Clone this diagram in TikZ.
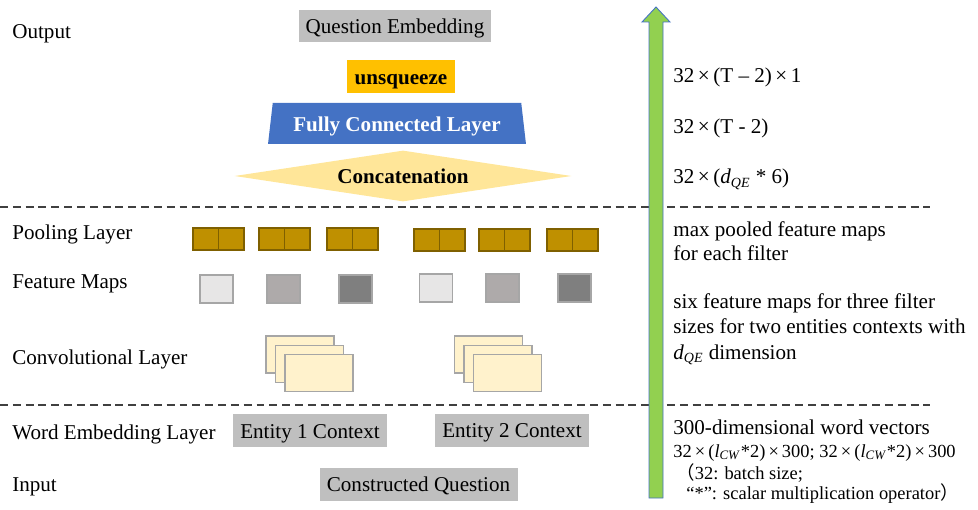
\documentclass[tikz,border=0pt]{standalone}
\usepackage{fontspec}
\setmainfont{Liberation Serif}
\newfontfamily\cjk{Noto Sans CJK SC}
\usetikzlibrary{shapes.geometric,positioning}

\definecolor{boxgray}{HTML}{BFBFBF}
\definecolor{sqzorange}{HTML}{FFC000}
\definecolor{fcblue}{HTML}{4472C4}
\definecolor{catyellow}{HTML}{FFE699}
\definecolor{poolgold}{HTML}{BF9000}
\definecolor{pooledge}{HTML}{7F6000}
\definecolor{fmlight}{HTML}{E7E6E6}
\definecolor{fmmid}{HTML}{AEAAAA}
\definecolor{fmdark}{HTML}{7F7F7F}
\definecolor{convfill}{HTML}{FFF2CC}
\definecolor{edgegray}{HTML}{A6A6A6}
\definecolor{arrowgreen}{HTML}{92D050}

\newcommand{\dqe}{\textit{d}\textsubscript{\textit{QE}}}
\newcommand{\lcw}{(\textit{l}\textsubscript{\textit{CW}}*2)}

\begin{document}
\begin{tikzpicture}[x=0.02cm,y=-0.02cm,
  every node/.style={font=\fontsize{12}{14}\selectfont},
  sz/.style 2 args={minimum width=#1*0.02cm,minimum height=#2*0.02cm},
  mid/.style={text height=9pt,text depth=0pt},
  graybox/.style={fill=boxgray,inner sep=0pt,mid},
  lbl/.style={anchor=base west,inner sep=0pt},
  note/.style={anchor=base west,inner sep=0pt,font=\fontsize{10.5}{12}\selectfont},
  poolcell/.style={draw=pooledge,fill=poolgold,line width=0.6pt,inner sep=0pt,outer sep=0pt,sz={25.5}{22}},
  fmap/.style={draw=edgegray,fill=#1,line width=0.6pt,inner sep=0pt,sz={33}{28}},
  convmap/.style={draw=edgegray,fill=convfill,line width=0.6pt,inner sep=0pt,sz={68}{37}},
  sepline/.style={dashed,dash pattern=on 4.5pt off 2.8pt,line width=0.85pt,draw=black!75}]
\useasboundingbox (0,0) rectangle (978,510);

% layer names
\node[lbl] (lout) at (12,39) {Output};
\node[lbl] (lpool) at (12,239) {Pooling Layer};
\node[lbl] (lfm) at (12,289) {Feature Maps};
\node[lbl] (lconv) at (12,364) {Convolutional Layer};
\node[lbl] (lwe) at (12,439) {Word Embedding Layer};
\node[lbl] (lin) at (12,491) {Input};

% separators
\coordinate (sepAl) at (0,207);
\coordinate (sepAr) at (930,207);
\coordinate (sepBl) at (0,405);
\coordinate (sepBr) at (930,405);
\draw[sepline] (sepAl) -- (sepAr);
\draw[sepline] (sepBl) -- (sepBr);

% output part
\node[graybox,sz={192}{32}] (qemb) at (395,26) {Question Embedding};
\node[fill=sqzorange,inner sep=0pt,mid,sz={108}{33},font=\fontsize{12}{14}\selectfont\bfseries] (unsq) at (401,76.5) {unsqueeze};
\node[trapezium,trapezium stretches=true,trapezium angle=76,fill=fcblue,text=white,inner sep=0pt,mid,
  sz={258}{41},font=\fontsize{12}{14}\selectfont\bfseries] (fc) at (397,123.5) {Fully Connected Layer};
\node[diamond,aspect=6.6,fill=catyellow,inner sep=0pt,mid,sz={337}{51},font=\fontsize{12}{14}\selectfont\bfseries] (concat) at (403,176) {Concatenation};

% pooling layer
\foreach \i/\px/\py in {1/193/228,2/259/228,3/327/228,4/414/229,5/479/229,6/547/229}{
  \node[poolcell,anchor=north west] (pool\i a) at (\px,\py) {};
  \node[poolcell,right=0pt of pool\i a] (pool\i b) {};
}

% feature maps
\node[fmap=fmlight] (fm1) at (216.5,289) {};
\node[fmap=fmmid] (fm2) at (283.5,289) {};
\node[fmap=fmdark] (fm3) at (355.5,289) {};
\node[fmap=fmlight] (fm4) at (436,288) {};
\node[fmap=fmmid] (fm5) at (502.5,288) {};
\node[fmap=fmdark] (fm6) at (574.5,288) {};

% convolutional layer
\foreach \s/\cx in {1/300,2/488.5}{
  \node[convmap] (conv\s a) at (\cx,354.5) {};
  \node[convmap] (conv\s b) at (\cx+9.5,364) {};
  \node[convmap] (conv\s c) at (\cx+19,373) {};
}

% word embedding and input
\node[graybox,sz={154}{33}] (ent1) at (310,430.5) {Entity 1 Context};
\node[graybox,sz={154}{33}] (ent2) at (512,430) {Entity 2 Context};
\node[graybox,sz={198}{33}] (cq) at (418.5,484) {Constructed Question};

% big arrow
\filldraw[fill=arrowgreen,draw=fcblue,line width=0.5pt]
  (649,498) -- (649,22) -- (642,22) -- (656,7) -- (670,22) -- (663,22) -- (663,498) -- cycle;

% dimensions
\node[lbl] (dimsq) at (673,83) {32\,×\,(T – 2)\,×\,1};
\node[lbl] (dimfc) at (673,134) {32\,×\,(T - 2)};
\node[lbl] (dimcat) at (673,184) {32\,×\,(\dqe\ * 6)};
\node[lbl] (dpoolA) at (673,236) {max pooled feature maps};
\node[lbl] (dpoolB) at (673,260) {for each filter};
\node[lbl] (dfmA) at (673,308) {six feature maps for three filter};
\node[lbl] (dfmB) at (673,334) {sizes for two entities contexts with};
\node[lbl] (dfmC) at (673,359) {\dqe\ dimension};
\node[lbl] (dweA) at (673,434) {300-dimensional word vectors};
\node[note] (dweB) at (673,457) {32\,×\,\lcw\,×\,300; 32\,×\,\lcw\,×\,300};
\node[note] (dweC) at (676,479) {{\cjk （}32: batch size;};
\node[note] (dweD) at (686,499) {“*”: scalar multiplication operator{\cjk ）}};
\end{tikzpicture}
\end{document}
